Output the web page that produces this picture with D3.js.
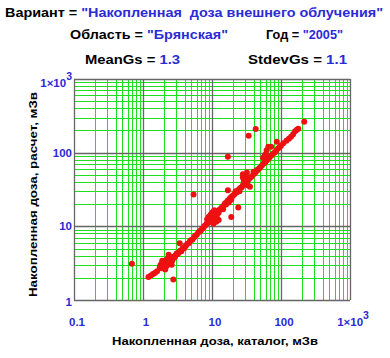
<!DOCTYPE html>
<html>
<head>
<meta charset="utf-8">
<script src="https://cdn.jsdelivr.net/npm/d3@7"></script>
<style>
  body { margin: 0; background: #fff; }
  svg text { font-family: "Liberation Sans", Arial, sans-serif; font-weight: bold; white-space: pre; }
</style>
</head>
<body>
<div id="chart"></div>
<script>
// catalog dose (x) vs calculated dose (y), mSv
const catalogDose = [
  1.2, 1.3, 1.4, 1.5, 1.6, 1.75, 1.8, 1.85, 1.9, 1.95, 2.0, 2.05, 2.1, 2.15, 2.2, 2.25, 2.3, 2.35, 2.4, 2.45,
  2.5, 2.55, 2.6, 2.65, 2.7, 2.8, 2.9, 3.0, 3.1, 3.2, 3.35, 3.5, 3.6, 3.75, 3.9, 4.0, 4.2, 4.4, 4.6, 4.8,
  5.0, 5.2, 5.5, 5.7, 6.0, 6.3, 6.6, 6.9, 7.2, 7.5, 7.8, 8.1, 8.4, 8.5, 8.8, 9.0, 9.2, 9.4, 9.6, 9.8,
  10.0, 10.2, 10.4, 10.5, 10.6, 10.8, 11.0, 11.3, 11.5, 11.6, 12.0, 12.4, 12.5, 12.8, 13.5, 14, 14.5, 15, 15.5, 16,
  16.5, 17, 17.5, 18, 18.5, 19, 19.5, 20, 21, 22, 23, 24, 25, 26, 27, 28, 29, 30, 31, 32,
  33, 34, 35, 36, 38, 40, 42, 44, 46, 48, 50, 53, 56, 59, 62, 65, 68, 72, 76, 80,
  85, 90, 95, 100, 108, 28, 30, 31, 32, 33, 29, 35.5, 55, 58, 60, 62, 65.5, 72, 87, 120,
  130, 140, 150, 160, 170, 178, 217,
  2.2, 2.4, 2.6, 1.9, 2.1, 9.5, 10.5, 11.8, 12.5, 22, 25, 40, 45,
  0.69, 2.75, 3.4, 5.4, 17, 19, 24, 17, 34, 43, 28
];
const calcDose = [
  2.05, 2.15, 2.25, 2.35, 2.45, 2.8, 3.0, 2.7, 3.2, 2.9, 3.1, 3.4, 2.8, 3.0, 3.3, 3.6, 3.1, 4.1, 3.4, 3.7,
  3.2, 3.5, 3.8, 3.4, 3.6, 3.9, 3.8, 4.1, 4.3, 4.2, 4.5, 4.7, 4.6, 5.0, 5.2, 5.1, 5.5, 5.8, 5.9, 6.3,
  6.5, 6.6, 7.1, 7.4, 7.7, 8.2, 8.6, 8.8, 9.3, 9.6, 10.1, 10.4, 10.9, 12.5, 11.2, 13.5, 11.8, 12.6, 14.5, 12.3,
  13.2, 15.5, 12.8, 10.8, 14.0, 16.5, 13.6, 15.0, 11.5, 14.2, 16.0, 15.2, 12.2, 16.8, 17.5, 18.2, 17.0, 19.5, 20.5, 19.8,
  21.5, 22.4, 21.0, 23.5, 24.4, 23.0, 25.5, 26.0, 27.0, 28.5, 29.0, 31, 32, 33.5, 34, 36, 37, 38, 40, 41,
  42, 44, 45, 46, 48, 51, 53, 56, 58, 61, 63, 67, 71, 74, 78, 82, 86, 91, 96, 100,
  106, 113, 118, 124, 134, 46, 50, 44, 54, 36, 42, 34.5, 85, 90, 95, 108, 120, 120, 141, 145,
  155, 165, 178, 195, 205, 212, 262,
  2.9, 3.2, 3.0, 3.4, 2.6, 11.5, 14.8, 13.0, 15.8, 30, 30, 55, 58,
  3.1, 1.9, 5.9, 27, 31, 13.4, 18, 88, 170, 209, 51
];

const xTicks = [0.1, 1, 10, 100, 1000];
const yTicks = [1, 10, 100, 1000];
const xTickLabels = ["0.1", "1", "10", "100", "1×10|3"];
const yTickLabels = ["1", "10", "100", "1×10|3"];

const blue = "#2b2bd6";
const W = 390, H = 358;
const plot = { left: 74, right: 350, top: 79, bottom: 300 };

const svg = d3.select("#chart").append("svg")
  .attr("width", W).attr("height", H);
svg.append("rect").attr("width", W).attr("height", H).attr("fill", "#fff");

const x = d3.scaleLog().domain([0.1, 1000]).range([plot.left, plot.right]);
const y = d3.scaleLog().domain([1, 1000]).range([plot.bottom, plot.top]);

// minor grid (2..9 in each decade)
const minorX = [], minorY = [];
[0.1, 1, 10, 100].forEach(d => { for (let k = 2; k <= 9; k++) minorX.push(d * k); });
[1, 10, 100].forEach(d => { for (let k = 2; k <= 9; k++) minorY.push(d * k); });

const grid = svg.append("g");
grid.selectAll(".mx").data(minorX).enter().append("line")
  .attr("x1", d => Math.round(x(d)) + 0.5).attr("x2", d => Math.round(x(d)) + 0.5)
  .attr("y1", plot.top).attr("y2", plot.bottom)
  .attr("stroke", "#1fe01f").attr("stroke-width", 1);
grid.selectAll(".my").data(minorY).enter().append("line")
  .attr("y1", d => Math.round(y(d)) + 0.5).attr("y2", d => Math.round(y(d)) + 0.5)
  .attr("x1", plot.left).attr("x2", plot.right)
  .attr("stroke", "#1fe01f").attr("stroke-width", 1);

// major grid
grid.selectAll(".Mx").data(xTicks).enter().append("line")
  .attr("x1", d => Math.round(x(d)) + 0.5).attr("x2", d => Math.round(x(d)) + 0.5)
  .attr("y1", plot.top).attr("y2", plot.bottom)
  .attr("stroke", "#666").attr("stroke-width", 1.3);
grid.selectAll(".My").data(yTicks).enter().append("line")
  .attr("y1", d => Math.round(y(d)) + 0.5).attr("y2", d => Math.round(y(d)) + 0.5)
  .attr("x1", plot.left).attr("x2", plot.right)
  .attr("stroke", "#666").attr("stroke-width", 1.3);

// points
svg.append("g").selectAll("circle").data(catalogDose).enter().append("circle")
  .attr("cx", (d, i) => x(d))
  .attr("cy", (d, i) => y(calcDose[i]))
  .attr("r", 3)
  .attr("fill", "#ee1111");

// tick labels
function addLabel(g, str, size) {
  const parts = str.split("|");
  g.append("tspan").text(parts[0]);
  if (parts[1]) {
    g.append("tspan").attr("dy", -7).attr("font-size", size - 1).text(parts[1]);
  }
}

xTicks.forEach((d, i) => {
  const t = svg.append("text")
    .attr("x", x(d) + 3).attr("y", 326)
    .attr("text-anchor", "middle")
    .attr("font-size", 11.5).attr("fill", blue);
  addLabel(t, xTickLabels[i], 11.5);
});

yTicks.forEach((d, i) => {
  const t = svg.append("text")
    .attr("x", 72).attr("y", y(d) + (i === 0 ? 6 : 4))
    .attr("text-anchor", "end")
    .attr("font-size", 11.5).attr("fill", blue);
  if (i === 3) t.attr("y", y(d) + 8);
  addLabel(t, yTickLabels[i], 11.5);
});

// axis titles
svg.append("text")
  .attr("x", 112).attr("y", 345)
  .attr("font-size", 11.5)
  .attr("textLength", 206).attr("lengthAdjust", "spacingAndGlyphs")
  .text("Накопленная доза, каталог, мЗв");

svg.append("text")
  .attr("transform", "translate(37,297) rotate(-90)")
  .attr("font-size", 11.5)
  .attr("textLength", 205).attr("lengthAdjust", "spacingAndGlyphs")
  .text("Накопленная доза, расчет, мЗв");

// header lines
function header(xPos, yPos, len, label, value) {
  const t = svg.append("text").attr("x", xPos).attr("y", yPos).attr("font-size", 13)
    .attr("textLength", len).attr("lengthAdjust", "spacingAndGlyphs");
  t.append("tspan").attr("fill", "#000").text(label);
  t.append("tspan").attr("fill", blue).text(value);
}
header(5, 17, 378, "Вариант = ", "\"Накопленная  доза внешнего облучения\"");
header(70, 39, 158, "Область = ", "\"Брянская\"");
header(266, 39, 77, "Год = ", "\"2005\"");
header(85, 64, 95, "MeanGs = ", "1.3");
header(248, 64, 99, "StdevGs = ", "1.1");
</script>
</body>
</html>
